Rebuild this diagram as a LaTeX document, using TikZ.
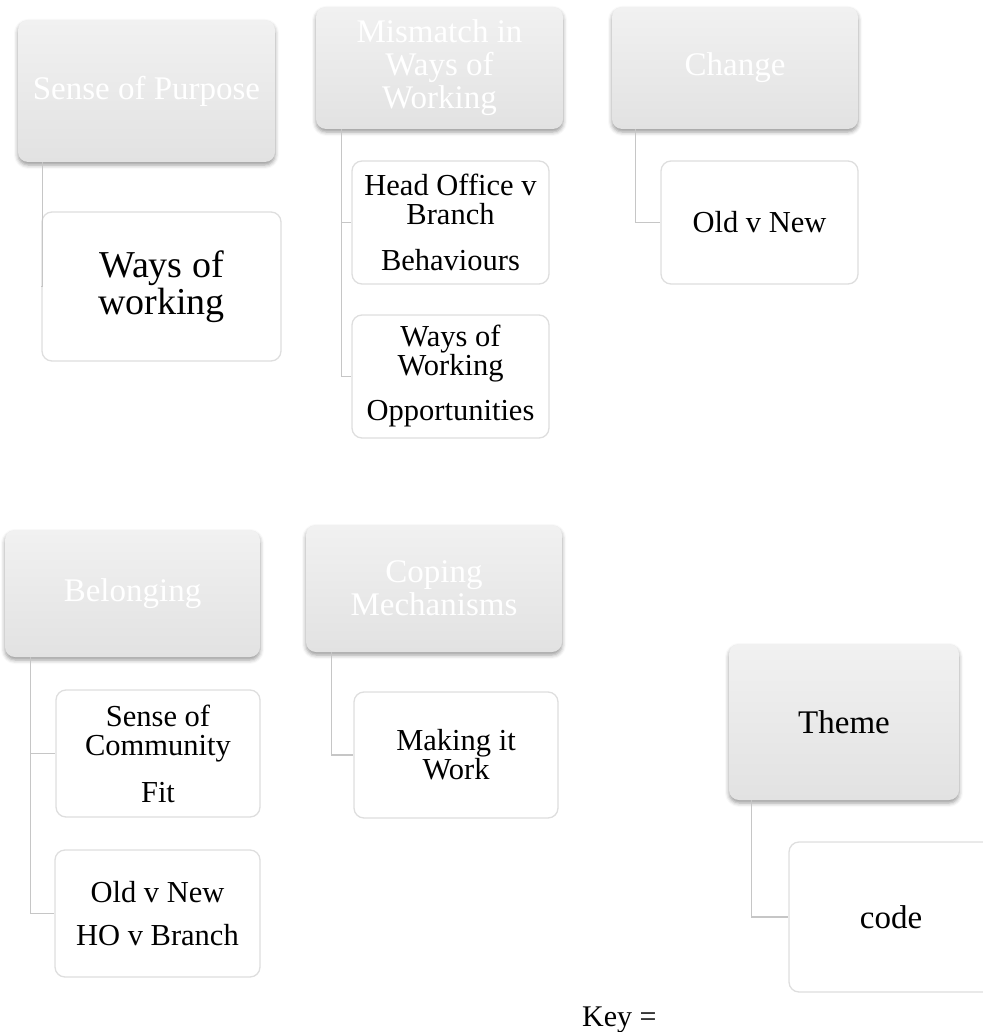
\documentclass[tikz,border=0pt]{standalone}
\usepackage{fontspec}
\setmainfont{Liberation Serif}
\usetikzlibrary{shadows.blur}

\definecolor{linkgray}{HTML}{C6C6C6}
\definecolor{edgegray}{HTML}{DEDEDE}
\definecolor{themetop}{HTML}{F1F1F1}
\definecolor{themebot}{HTML}{E2E2E2}

\tikzset{
  themebox/.style={rounded corners=10pt, top color=themetop, bottom color=themebot,
    draw=none, text=white, align=center, inner sep=2pt,
    blur shadow={shadow xshift=0pt, shadow yshift=-3pt, shadow blur radius=4pt, shadow opacity=40},
    font=\fontsize{33}{33}\selectfont},
  codebox/.style={rounded corners=10pt, fill=white, draw=edgegray, line width=1.3pt,
    align=center, inner sep=2pt, text=black,
    font=\fontsize{30.5}{29}\selectfont},
  link/.style={draw=linkgray, line width=1.3pt},
}

\begin{document}
\begin{tikzpicture}[x=1pt, y=-1pt]
\useasboundingbox (0,0) rectangle (982,1032);

% Sense of Purpose
\node[themebox, minimum width=257pt, minimum height=142pt] (sp) at (146.5,91) {Sense of Purpose};
\node[codebox, minimum width=239pt, minimum height=149pt, font=\fontsize{38}{37}\selectfont] (wow) at (161.5,286.5) {Ways of\\working};
\draw[link] ([xshift=25pt]sp.south west) |- (wow.west);

% Mismatch in Ways of Working
\node[themebox, minimum width=247pt, minimum height=122pt] (mm) at (439.5,68) {Mismatch in\\Ways of\\Working};
\node[codebox, minimum width=197pt, minimum height=123pt] (hob) at (450.5,222.5) {Head Office v\\Branch\\[17pt]Behaviours};
\node[codebox, minimum width=197pt, minimum height=123pt] (wwo) at (450.5,376.5) {Ways of\\Working\\[16pt]Opportunities};
\draw[link] ([xshift=26pt]mm.south west) |- (hob.west);
\draw[link] ([xshift=26pt]mm.south west) |- (wwo.west);

% Change
\node[themebox, minimum width=246pt, minimum height=122pt] (ch) at (735,68) {Change};
\node[codebox, minimum width=197pt, minimum height=123pt] (ovn) at (759.5,222.5) {Old v New};
\draw[link] ([xshift=24pt]ch.south west) |- (ovn.west);

% Belonging
\node[themebox, minimum width=255pt, minimum height=127pt] (bel) at (132.5,593.5) {Belonging};
\node[codebox, minimum width=204pt, minimum height=127pt] (soc) at (158,753.5) {Sense of\\Community\\[18pt]Fit};
\node[codebox, minimum width=205pt, minimum height=127pt] (ovh) at (157.5,913.5) {Old v New\\[14pt]HO v Branch};
\draw[link] ([xshift=26pt]bel.south west) |- (soc.west);
\draw[link] ([xshift=26pt]bel.south west) |- (ovh.west);

% Coping Mechanisms
\node[themebox, minimum width=256pt, minimum height=127pt] (cop) at (434,588.5) {Coping\\Mechanisms};
\node[codebox, minimum width=204pt, minimum height=126pt] (miw) at (456,755) {Making it\\Work};
\draw[link] ([xshift=26pt]cop.south west) |- (miw.west);

% Key
\node[themebox, minimum width=230pt, minimum height=156pt, text=black] (th) at (844,722) {Theme};
\node[codebox, minimum width=204pt, minimum height=150pt, font=\fontsize{33}{33}\selectfont] (cd) at (891,917) {code};
\draw[link] ([xshift=23pt]th.south west) |- (cd.west);
\node[anchor=base west, inner sep=0pt, font=\fontsize{30}{30}\selectfont] (key) at (582,1026) {Key =};
\end{tikzpicture}
\end{document}
